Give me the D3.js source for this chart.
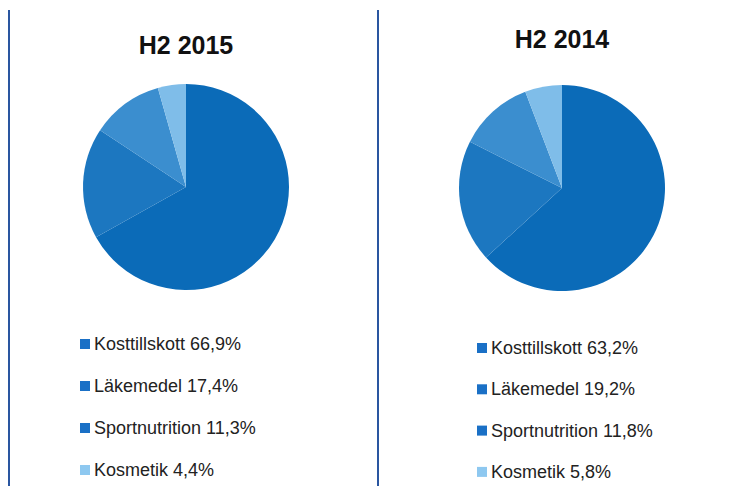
<!DOCTYPE html>
<meta charset="utf-8">
<script src="https://d3js.org/d3.v7.min.js"></script>
<style>
  body { margin: 0; background: #fff; }
  text { font-family: "Liberation Sans", Arial, sans-serif; }
</style>
<body>
<div id="my_dataviz"></div>
<script>
// data
var categories = ["Kosttillskott", "Läkemedel", "Sportnutrition", "Kosmetik"];
var values2015 = [66.9, 17.4, 11.3, 4.4];
var values2014 = [63.2, 19.2, 11.8, 5.8];
var titles = ["H2 2015", "H2 2014"];

var width = 752, height = 486;

var svg = d3.select("#my_dataviz")
  .append("svg")
    .attr("width", width)
    .attr("height", height);

var sliceColor = d3.scaleOrdinal()
  .domain(categories)
  .range(["#0b6bb8", "#1c77c0", "#3b8ecf", "#7fbde9"]);
var keyColor = d3.scaleOrdinal()
  .domain(categories)
  .range(["#1a70c6", "#1a70c6", "#1a70c6", "#8ec8f0"]);

// panel separators
[9, 378].forEach(function(x) {
  svg.append("line")
    .attr("x1", x).attr("x2", x)
    .attr("y1", 10).attr("y2", height)
    .attr("stroke", "#2a56a0")
    .attr("stroke-width", 2);
});

var panels = [
  {title: titles[0], values: values2015, cx: 186, cy: 187, titleY: 54, legX: 80, legY: 350, step: 42},
  {title: titles[1], values: values2014, cx: 562, cy: 188, titleY: 48, legX: 477, legY: 354, step: 41.3}
];

var pie = d3.pie().sort(null).value(function(d) { return d.value; });
var arc = d3.arc().innerRadius(0).outerRadius(103);

panels.forEach(function(p) {
  var data = categories.map(function(c, i) { return {name: c, value: p.values[i]}; });

  svg.append("text")
    .attr("x", p.cx)
    .attr("y", p.titleY)
    .attr("text-anchor", "middle")
    .style("font-size", "25px")
    .style("font-weight", "bold")
    .style("fill", "#111")
    .text(p.title);

  var g = svg.append("g")
    .attr("transform", "translate(" + p.cx + "," + p.cy + ")");

  g.selectAll("path")
    .data(pie(data))
    .enter()
    .append("path")
      .attr("d", arc)
      .attr("fill", function(d) { return sliceColor(d.data.name); });

  var leg = svg.append("g")
    .attr("transform", "translate(" + p.legX + "," + p.legY + ")");

  var rows = leg.selectAll("g")
    .data(data)
    .enter()
    .append("g")
      .attr("transform", function(d, i) { return "translate(0," + (i * p.step) + ")"; });

  rows.append("rect")
    .attr("x", 0).attr("y", -11)
    .attr("width", 10).attr("height", 10)
    .attr("fill", function(d) { return keyColor(d.name); });

  rows.append("text")
    .attr("x", 14)
    .attr("y", 0)
    .style("font-size", "18px")
    .style("fill", "#222")
    .text(function(d) { return d.name + " " + d3.format(".1f")(d.value).replace(".", ",") + "%"; });
});
</script>
</body>
